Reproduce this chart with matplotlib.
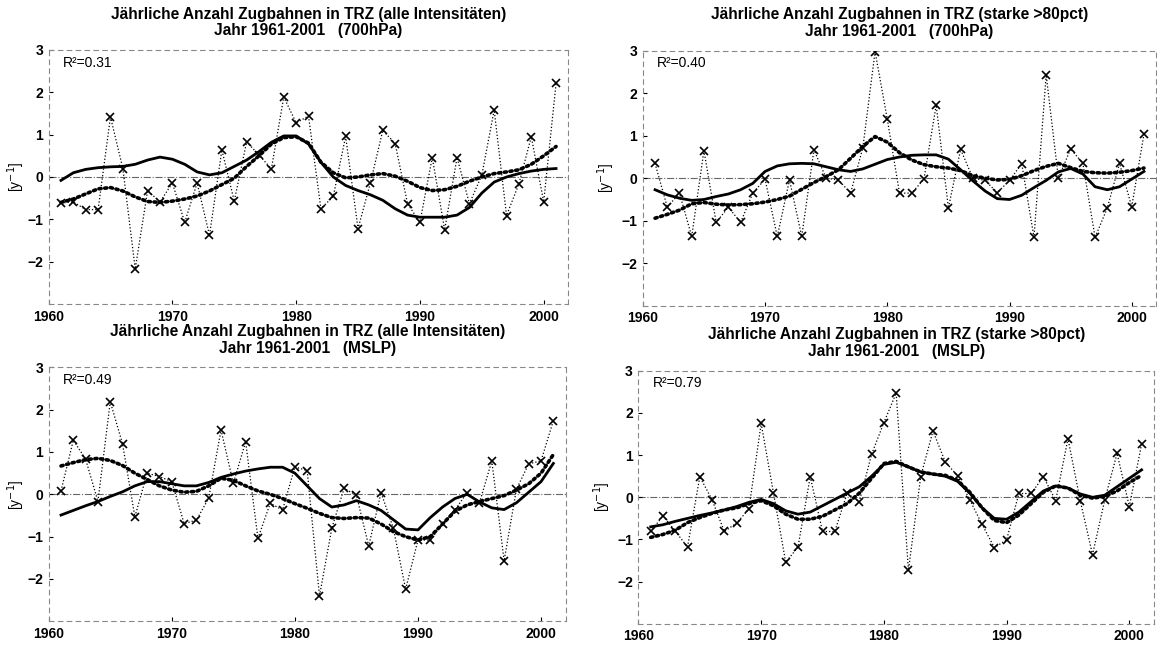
import numpy as np
import matplotlib
matplotlib.use("Agg")
import matplotlib.pyplot as plt

plt.rcParams['font.family'] = ['Liberation Sans', 'DejaVu Sans']

years = np.arange(1961, 2002)

# --- 700 hPa, alle Intensitäten ---
obs_700_all = [-0.61, -0.59, -0.77, -0.77, 1.42, 0.20, -2.17, -0.32, -0.59, -0.14,
               -1.07, -0.14, -1.38, 0.64, -0.57, 0.83, 0.52, 0.19, 1.89, 1.28,
               1.44, -0.75, -0.46, 0.96, -1.22, -0.14, 1.10, 0.79, -0.63, -1.07,
               0.46, -1.25, 0.46, -0.63, 0.04, 1.58, -0.91, -0.16, 0.95, -0.59, 2.21]
smooth_700_all = [-0.60, -0.52, -0.40, -0.28, -0.25, -0.33, -0.47, -0.58, -0.60, -0.57,
                  -0.52, -0.45, -0.33, -0.18, -0.03, 0.25, 0.50, 0.78, 0.93, 0.95,
                  0.80, 0.35, 0.10, -0.02, 0.00, 0.05, 0.08, 0.02, -0.10, -0.25,
                  -0.32, -0.30, -0.22, -0.10, 0.00, 0.08, 0.12, 0.17, 0.30, 0.50, 0.72]
model_700_all = [-0.08, 0.10, 0.18, 0.22, 0.24, 0.25, 0.30, 0.40, 0.47, 0.42,
                 0.30, 0.12, 0.05, 0.10, 0.25, 0.40, 0.60, 0.82, 0.97, 0.97,
                 0.78, 0.35, 0.00, -0.20, -0.32, -0.42, -0.55, -0.75, -0.90, -0.95,
                 -0.95, -0.95, -0.90, -0.72, -0.38, -0.12, 0.00, 0.08, 0.14, 0.18, 0.20]

# --- 700 hPa, starke >80pct ---
obs_700_str = [0.35, -0.68, -0.35, -1.37, 0.65, -1.04, -0.68, -1.04, -0.35, -0.02,
               -1.37, -0.04, -1.37, 0.67, 0.00, -0.04, -0.35, 0.72, 2.98, 1.39,
               -0.35, -0.35, -0.02, 1.72, -0.70, 0.68, 0.00, -0.05, -0.34, -0.05,
               0.34, -1.39, 2.43, 0.00, 0.69, 0.35, -1.39, -0.70, 0.35, -0.67, 1.04]
smooth_700_str = [-0.94, -0.85, -0.75, -0.60, -0.57, -0.61, -0.63, -0.62, -0.60, -0.56,
                  -0.50, -0.42, -0.26, -0.10, 0.04, 0.20, 0.47, 0.75, 0.98, 0.85,
                  0.60, 0.43, 0.32, 0.27, 0.24, 0.18, 0.06, 0.00, -0.04, -0.03,
                  0.06, 0.18, 0.28, 0.35, 0.25, 0.16, 0.13, 0.12, 0.14, 0.18, 0.24]
model_700_str = [-0.27, -0.39, -0.47, -0.52, -0.50, -0.43, -0.37, -0.27, -0.12, 0.16,
                 0.29, 0.34, 0.35, 0.34, 0.27, 0.20, 0.16, 0.22, 0.33, 0.44,
                 0.50, 0.54, 0.55, 0.55, 0.45, 0.20, -0.06, -0.30, -0.48, -0.50,
                 -0.40, -0.22, -0.05, 0.15, 0.23, 0.10, -0.20, -0.27, -0.20, -0.02, 0.16]

# --- MSLP, alle Intensitäten ---
obs_slp_all = [0.08, 1.28, 0.83, -0.17, 2.19, 1.19, -0.53, 0.50, 0.42, 0.30,
               -0.69, -0.61, -0.09, 1.52, 0.26, 1.24, -1.04, -0.21, -0.37, 0.65,
               0.56, -2.40, -0.80, 0.14, -0.02, -1.22, 0.04, -0.80, -2.24, -1.08,
               -1.08, -0.70, -0.37, 0.04, -0.20, 0.79, -1.57, 0.12, 0.72, 0.79, 1.74]
smooth_slp_all = [0.67, 0.75, 0.82, 0.85, 0.80, 0.68, 0.50, 0.35, 0.20, 0.10,
                  0.05, 0.07, 0.20, 0.38, 0.33, 0.20, 0.08, 0.00, -0.10, -0.22,
                  -0.33, -0.45, -0.55, -0.57, -0.55, -0.56, -0.70, -0.88, -1.00, -1.08,
                  -1.00, -0.70, -0.40, -0.25, -0.17, -0.10, -0.03, 0.10, 0.25, 0.50, 0.94]
model_slp_all = [-0.49, -0.38, -0.27, -0.17, -0.05, 0.06, 0.20, 0.30, 0.30, 0.25,
                 0.20, 0.20, 0.28, 0.40, 0.48, 0.55, 0.60, 0.64, 0.64, 0.50,
                 0.20, -0.10, -0.30, -0.25, -0.15, -0.25, -0.38, -0.60, -0.82, -0.84,
                 -0.55, -0.30, -0.10, 0.00, -0.18, -0.32, -0.36, -0.20, 0.05, 0.30, 0.73]

# --- MSLP, starke >80pct ---
obs_slp_str = [-0.81, -0.44, -0.80, -1.18, 0.49, -0.06, -0.81, -0.61, -0.28, 1.75,
               0.11, -1.54, -1.18, 0.49, -0.81, -0.81, 0.09, -0.10, 1.02, 1.77,
               2.47, -1.73, 0.49, 1.57, 0.84, 0.51, -0.06, -0.64, -1.19, -1.01,
               0.09, 0.09, 0.49, -0.08, 1.39, -0.08, -1.36, -0.06, 1.04, -0.22, 1.26]
smooth_slp_str = [-0.95, -0.88, -0.78, -0.60, -0.48, -0.38, -0.30, -0.25, -0.15, -0.08,
                  -0.20, -0.40, -0.52, -0.52, -0.45, -0.30, -0.15, 0.10, 0.45, 0.80,
                  0.85, 0.72, 0.60, 0.55, 0.52, 0.40, 0.12, -0.25, -0.55, -0.60,
                  -0.42, -0.15, 0.12, 0.27, 0.22, 0.05, -0.02, 0.02, 0.15, 0.35, 0.52]
model_slp_str = [-0.70, -0.65, -0.57, -0.50, -0.43, -0.37, -0.30, -0.22, -0.12, -0.05,
                 -0.15, -0.32, -0.40, -0.35, -0.20, -0.05, 0.10, 0.25, 0.50, 0.78,
                 0.83, 0.72, 0.60, 0.55, 0.50, 0.38, 0.10, -0.25, -0.50, -0.52,
                 -0.35, -0.10, 0.15, 0.27, 0.22, 0.08, 0.00, 0.05, 0.25, 0.45, 0.65]

title_line1 = ["Jährliche Anzahl Zugbahnen in TRZ (alle Intensitäten)",
               "Jährliche Anzahl Zugbahnen in TRZ (starke >80pct)",
               "Jährliche Anzahl Zugbahnen in TRZ (alle Intensitäten)",
               "Jährliche Anzahl Zugbahnen in TRZ (starke >80pct)"]
title_line2 = ["Jahr 1961-2001   (700hPa)", "Jahr 1961-2001   (700hPa)",
               "Jahr 1961-2001   (MSLP)", "Jahr 1961-2001   (MSLP)"]
r2_labels = ["R²=0.31", "R²=0.40", "R²=0.49", "R²=0.79"]
xticks = [1960, 1970, 1980, 1990, 2000]
yticks = [-2, -1, 0, 1, 2, 3]

panels = [
    (obs_700_all, smooth_700_all, model_700_all),
    (obs_700_str, smooth_700_str, model_700_str),
    (obs_slp_all, smooth_slp_all, model_slp_all),
    (obs_slp_str, smooth_slp_str, model_slp_str),
]

# axes rectangles in figure fractions, and y-label offsets per panel
rects = [
    [0.0420, 0.5287, 0.4493, 0.3938],
    [0.5556, 0.5259, 0.4437, 0.3955],
    [0.0421, 0.0367, 0.4468, 0.3938],
    [0.5518, 0.0327, 0.4455, 0.3926],
]
ylabel_x = [-0.042, -0.051, -0.042, -0.049]

fig = plt.figure(figsize=(11.57, 6.45), dpi=100)

for i, (rect, (obs, smooth, model)) in enumerate(zip(rects, panels)):
    ax = fig.add_axes(rect)
    ax.set_xlim(1960, 2002)
    ax.set_ylim(-3, 3)
    ax.axhline(0, color='#666666', lw=0.8, ls='-.', zorder=1)
    ax.plot(years, obs, color='black', lw=0.9, ls=':', marker='x',
            markersize=6, markeredgewidth=1.2, zorder=3)
    ax.plot(years, model, color='black', lw=2.0, ls='-', zorder=4)
    ax.plot(years, smooth, color='black', lw=2.6, ls=(0, (0.6, 1.0)),
            dash_capstyle='round', zorder=5)
    ax.set_xticks(xticks)
    ax.set_yticks(yticks)
    ax.tick_params(direction='in', length=3, width=0.8, labelsize=10, pad=4,
                   colors='black')
    for lab in ax.get_xticklabels() + ax.get_yticklabels():
        lab.set_fontweight('bold')
    for sp in ax.spines.values():
        sp.set_linestyle((0, (4, 4)))
        sp.set_color('#888888')
        sp.set_linewidth(0.8)
    ax.set_ylabel(r'[y$^{-1}$]', fontsize=10)
    ax.yaxis.set_label_coords(ylabel_x[i], 0.5)
    ax.set_title(title_line1[i] + "\n" + title_line2[i], fontsize=11.2,
                 fontweight='bold', pad=10.5, linespacing=1.15)
    ax.text(0.028, 0.95, r2_labels[i], transform=ax.transAxes, fontsize=10,
            ha='left', va='center')

fig.savefig('out.png', dpi=100)
